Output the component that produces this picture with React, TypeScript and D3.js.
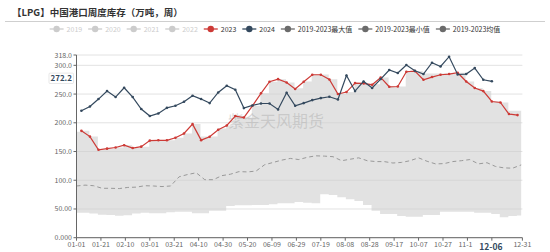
import React from 'react';
import * as d3 from 'd3';

// ---------- data ----------
const TITLE = '【LPG】中国港口周度库存（万吨，周）';
const WATERMARK = '紫金天风期货';
const AXIS_YEAR = 2024;

const X_TICK_DATES = ['01-01', '01-21', '02-10', '03-01', '03-21', '04-10', '04-30', '05-20', '06-09', '06-29',
  '07-19', '08-08', '08-28', '09-17', '10-07', '10-27', '11-16', '12-06', '12-31'];
const X_TICK_LABELS = ['01-01', '01-21', '02-10', '03-01', '03-21', '04-10', '04-30', '05-20', '06-09', '06-29',
  '07-19', '08-08', '08-28', '09-17', '10-07', '10-27', '11-1', '', '12-31'];
const Y_TICKS = [0, 50, 100, 150, 200, 250, 300, 318];
const Y_TICK_LABELS = ['0.000', '50.00', '100.0', '150.0', '200.0', '250.0', '300.0', '318.0'];

const LEGEND_NAMES = ['2019', '2020', '2021', '2022', '2023', '2024', '2019-2023最大值', '2019-2023最小值', '2019-2023均值'];
const LEGEND_ACTIVE = [false, false, false, false, true, true, true, true, true];

// weekly series (first week = 01-05, every 7 days)
const SERIES_2023 = [186, 176, 153, 155, 157, 161, 156, 158.5, 169, 169.5, 169.5, 174, 181.4, 197.7, 169.8, 175.6,
  188, 195.3, 211.7, 209.2, 229.6, 251.3, 271.5, 276, 270.2, 258.7, 271.4, 283.6, 283.6, 275.4, 250, 253.5,
  269.1, 268.5, 266.2, 278.9, 262.7, 263.2, 288.9, 290, 274.9, 279.6, 283.6, 284.8, 287.1, 272, 260.5, 255.2,
  237.1, 235.4, 215.2, 213.4];
const SERIES_2024 = [221, 228.4, 241.3, 255.2, 244.8, 261, 244.8, 224, 211.7, 216.3, 226, 229.6, 236.6, 247,
  241.3, 234.3, 252.8, 264.5, 257.5, 225.6, 230.2, 233.6, 233.6, 223.2, 252.3, 229.6, 234.3, 239.5, 243, 245.3,
  240.6, 282.4, 255.2, 272, 260.5, 276.1, 291.8, 286.6, 300.5, 290.6, 284.8, 304.5, 298.1, 315, 284.1, 284.8,
  295.2, 274.9, 272.2];

// 5-year statistics (first week = 01-01, every 7 days)
const MAX_5Y = [184.5, 186, 176, 153, 155, 157, 161, 156, 158.5, 169, 169.5, 169.5, 174, 181.4, 197.7, 176, 176,
  190, 195.3, 211.7, 209.2, 229.6, 251.3, 271.5, 276, 270.2, 260, 272, 284, 284, 276, 250, 253.5, 269.1, 268.5,
  267, 279, 263, 263.2, 290, 290, 286, 286, 286, 286, 287.1, 272, 260.5, 255.2, 237.1, 235.4, 221, 221];
const MIN_5Y = [43.6, 43.6, 42, 40, 39.5, 38, 39, 42, 43.6, 42.4, 42.4, 44.2, 45.3, 45.3, 42.4, 42.4, 47, 47,
  55.2, 56.4, 56.4, 57, 57, 58.2, 60, 60, 62.2, 61, 60, 75.6, 74.4, 70.4, 66.9, 63.9, 57, 47, 41.3, 41.3, 37.8,
  36.6, 36.6, 39.5, 39.5, 45.3, 45.3, 45.3, 45.3, 43.6, 43.6, 41.3, 35.5, 37.8, 38.5];
const AVG_5Y = [90, 91.5, 90.5, 86, 86, 85.5, 87.5, 88, 90.5, 90, 89, 90, 106, 110, 113, 101, 101, 108, 110.5,
  115, 114.5, 116, 127, 131, 135, 138, 136, 140, 142.5, 142, 141, 134, 136.6, 139, 134, 132.5, 132.4, 130, 131,
  134, 139, 133, 128.4, 129, 132.5, 134, 136, 128.5, 130.5, 124, 121.5, 121, 126.7];

const WEEK_START_DAY = 4;
const STAT_START_DAY = 0;
const POINTER_DATE = '12-06';
const POINTER_VALUE = 272.2;

// ---------- style ----------
const FONT = '"Noto Sans CJK SC", "Noto Sans", sans-serif';
const C2023 = '#cd3a36';
const C2024 = '#34495e';
const CSTAT = '#6b6b6b';
const CINACTIVE = '#cccccc';
const LEGEND_COLORS = [CINACTIVE, CINACTIVE, CINACTIVE, CINACTIVE, C2023, C2024, CSTAT, CSTAT, CSTAT];

const W = 550;
const H = 252;
const PL = 76.5;
const PR = 522.4;
const PB = 237.7;
const PT = 55;

let measureCtx: CanvasRenderingContext2D | null = null;
function textWidth(s: string, font: string): number {
  if (!measureCtx) {
    const c = document.createElement('canvas');
    measureCtx = c.getContext('2d');
  }
  if (!measureCtx) return s.length * 4;
  measureCtx.font = font;
  return measureCtx.measureText(s).width;
}

const day0 = new Date(Date.UTC(AXIS_YEAR, 0, 1));
const parseMD = (md: string) => {
  const [m, d] = md.split('-').map(Number);
  return new Date(Date.UTC(AXIS_YEAR, m - 1, d));
};

export default function App() {
  const x = d3.scaleUtc().domain([day0, parseMD('12-31')]).range([PL, PR]);
  const y = d3.scaleLinear().domain([0, 318]).range([PB, PT]);

  const weekDate = (i: number) => d3.utcDay.offset(day0, WEEK_START_DAY + 7 * i);
  const statDate = (i: number) => d3.utcDay.offset(day0, STAT_START_DAY + 7 * i);

  const band = d3.area<number>()
    .x((_, i) => x(statDate(i)))
    .y0((_, i) => y(MIN_5Y[i]))
    .y1((d) => y(d))
    .curve(d3.curveStep)(MAX_5Y) || '';

  const avgLine = d3.line<number>()
    .x((_, i) => x(statDate(i)))
    .y((d) => y(d))(AVG_5Y) || '';

  const weekLine = d3.line<number>()
    .x((_, i) => x(weekDate(i)))
    .y((d) => y(d));

  // legend layout
  const legendFont = `7px ${FONT}`;
  const iconW = 14, iconGap = 3, itemGap = 6;
  const widths = LEGEND_NAMES.map((n) => textWidth(n, legendFont));
  const total = widths.reduce((a, w) => a + iconW + iconGap + w, 0) + itemGap * (LEGEND_NAMES.length - 1);
  let cursor = W / 2 - total / 2;
  const legendItems = LEGEND_NAMES.map((name, i) => {
    const item = { name, x: cursor, w: widths[i], color: LEGEND_COLORS[i], active: LEGEND_ACTIVE[i] };
    cursor += iconW + iconGap + widths[i] + itemGap;
    return item;
  });
  const legendY = 29;

  const pointerX = x(parseMD(POINTER_DATE));
  const pointerY = y(POINTER_VALUE) - 3;

  return (
    <svg width={W} height={H} style={{ position: 'fixed', left: 0, top: 0, background: '#fff' }}
      fontFamily={FONT}>
      <rect x={0} y={0} width={W} height={H} fill="#fff" />
      <text x={12} y={16.3} fontSize={9.5} fontWeight="bold" fill="#333">{TITLE}</text>
      <line x1={5} x2={545} y1={21.5} y2={21.5} stroke="#cfcfcf" strokeWidth={1} />

      {legendItems.map((it) => (
        <g key={it.name}>
          <line x1={it.x} x2={it.x + iconW} y1={legendY} y2={legendY} stroke={it.color} strokeWidth={1.3} />
          <circle cx={it.x + iconW / 2} cy={legendY} r={3.2} fill={it.color} />
          <text x={it.x + iconW + iconGap} y={legendY + 2.5} fontSize={7} fill={it.active ? '#333' : CINACTIVE}>
            {it.name}
          </text>
        </g>
      ))}

      {Y_TICKS.map((t) => (
        <line key={'g' + t} x1={PL} x2={PR} y1={y(t)} y2={y(t)} stroke="#e2e2e2" strokeWidth={1} />
      ))}

      <path d={band} fill="#cfcfcf" fillOpacity={0.6} stroke="none" />

      <text x={228} y={127} fontSize={16} fill="#aaa" fillOpacity={0.45}>{WATERMARK}</text>

      <path d={avgLine} fill="none" stroke="#999" strokeWidth={1} strokeDasharray="4,3" />

      <path d={weekLine(SERIES_2023) || ''} fill="none" stroke={C2023} strokeWidth={1.2} />
      {SERIES_2023.map((v, i) => (
        <circle key={'a' + i} cx={x(weekDate(i))} cy={y(v)} r={1.3} fill={C2023} />
      ))}
      <path d={weekLine(SERIES_2024) || ''} fill="none" stroke={C2024} strokeWidth={1.2} />
      {SERIES_2024.map((v, i) => (
        <circle key={'b' + i} cx={x(weekDate(i))} cy={y(v)} r={1.3} fill={C2024} />
      ))}

      {/* y axis */}
      <line x1={PL} x2={PL} y1={PT} y2={PB} stroke="#666" strokeWidth={1} />
      {Y_TICKS.map((t, i) => (
        <g key={'y' + t}>
          <line x1={PL - 3} x2={PL} y1={y(t)} y2={y(t)} stroke="#666" />
          <text x={PL - 4.5} y={y(t) + (t === 0 ? 1.8 : 2.5)} fontSize={7} fill="#666" textAnchor="end">{Y_TICK_LABELS[i]}</text>
        </g>
      ))}

      {/* x axis */}
      <line x1={PL} x2={PR} y1={PB} y2={PB} stroke="#666" strokeWidth={1} />
      {X_TICK_DATES.map((md, i) => {
        const xx = x(parseMD(md));
        const lab = X_TICK_LABELS[i];
        return (
          <g key={'x' + md}>
            <line x1={xx} x2={xx} y1={PB} y2={PB + 3} stroke="#666" />
            {lab && (
              <text x={lab === '11-1' ? xx - 2 : xx} y={PB + 8.8} fontSize={7} fill="#666" textAnchor="middle">{lab}</text>
            )}
          </g>
        );
      })}

      {/* axis pointer labels */}
      <rect x={PL - 27.5} y={pointerY - 5.2} width={24.5} height={10.4} fill="#fff" stroke="#d8d8d8" strokeWidth={0.6} rx={1} />
      <text x={PL - 15.3} y={pointerY + 3} fontSize={8} fontWeight="bold" fill={C2024} textAnchor="middle">
        {POINTER_VALUE.toFixed(1)}
      </text>
      <text x={pointerX - 1} y={PB + 12.3} fontSize={8.5} fontWeight="bold" fill={C2024} textAnchor="middle">
        {POINTER_DATE}
      </text>
    </svg>
  );
}
